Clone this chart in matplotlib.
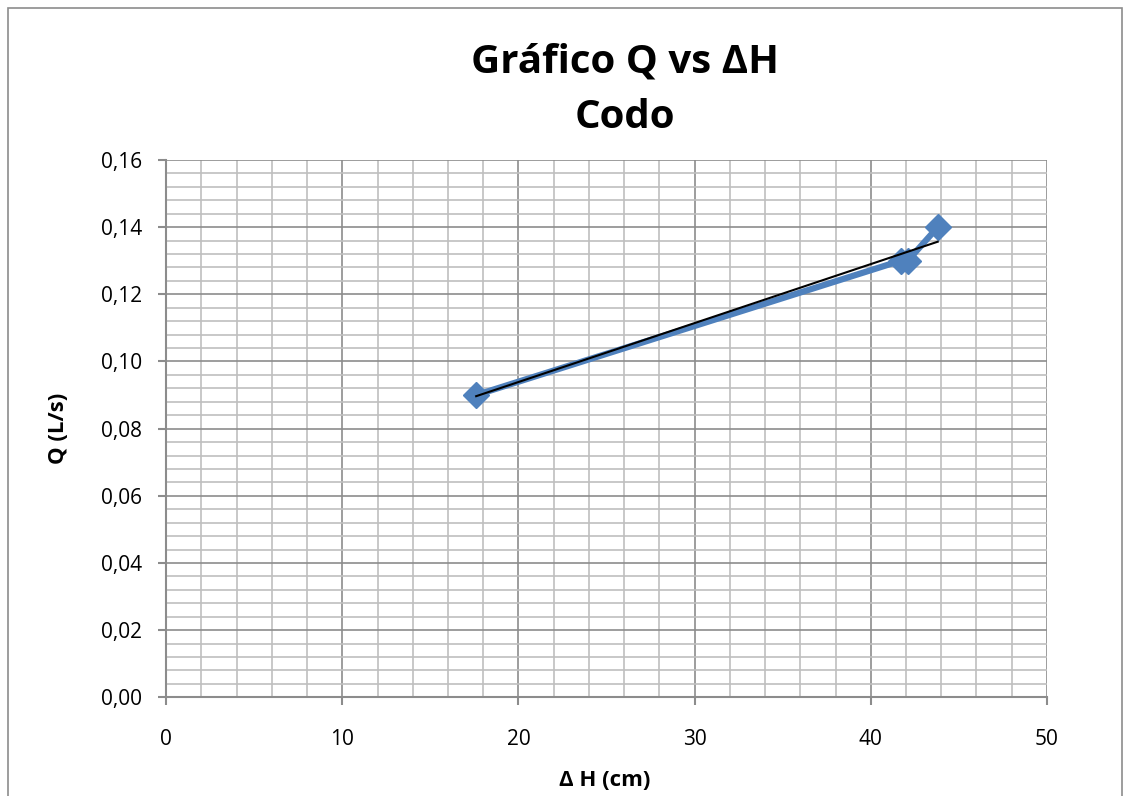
import numpy as np
import matplotlib
matplotlib.use("Agg")
import matplotlib.pyplot as plt
from matplotlib.ticker import MultipleLocator, FuncFormatter
from matplotlib.patches import Rectangle

plt.rcParams['font.family'] = ['Open Sans', 'DejaVu Sans']

# data
delta_h = [17.6, 41.7, 42.1, 43.8]   # cm
caudal = [0.09, 0.13, 0.13, 0.14]    # L/s

fig = plt.figure(figsize=(11.3, 7.96), dpi=100)
ax = fig.add_axes([0.147, 0.124, 0.7795, 0.675])

# grid
ax.set_xlim(0, 50)
ax.set_ylim(0, 0.16)
ax.xaxis.set_major_locator(MultipleLocator(10))
ax.xaxis.set_minor_locator(MultipleLocator(2))
ax.yaxis.set_major_locator(MultipleLocator(0.02))
ax.yaxis.set_minor_locator(MultipleLocator(0.004))
ax.grid(which='major', color='#8c8c8c', linewidth=1.2, zorder=0)
ax.grid(which='minor', color='#bfbfbf', linewidth=1.2, zorder=0)
ax.set_axisbelow(True)

ax.yaxis.set_major_formatter(FuncFormatter(lambda v, p: f"{v:.2f}".replace('.', ',')))
ax.tick_params(which='major', length=6, width=1.5, color='#8c8c8c', labelsize=15)
ax.tick_params(which='minor', length=0)
ax.tick_params(axis='x', pad=17)
ax.tick_params(axis='y', pad=11)

for side in ['top', 'right']:
    ax.spines[side].set_visible(False)
for side in ['left', 'bottom']:
    ax.spines[side].set_color('#8c8c8c')
    ax.spines[side].set_linewidth(1.5)

# series
ax.plot(delta_h, caudal, color='#4F81BD', linewidth=4.5, marker='D',
        markersize=13, zorder=3)

# linear trendline
coef = np.polyfit(delta_h, caudal, 1)
xt = np.array([min(delta_h), max(delta_h)])
ax.plot(xt, np.polyval(coef, xt), color='black', linewidth=1.5, zorder=4)

# axis titles
fig.text(605 / 1130, 1 - 780 / 796, "Δ H (cm)", ha='center', va='center',
         fontsize=16, fontweight='bold')
fig.text(58 / 1130, 1 - 428 / 796, "Q (L/s)", ha='center', va='center',
         fontsize=16, fontweight='bold', rotation=90)

# chart title
fig.text(625 / 1130, 1 - 62 / 796, "Gráfico Q vs ΔH", ha='center', va='center',
         fontsize=29, fontweight='bold')
fig.text(625 / 1130, 1 - 118 / 796, "Codo", ha='center', va='center',
         fontsize=29, fontweight='bold')

# chart border
fig.patches.append(Rectangle((0.007, -0.01), 0.986, 1.0, transform=fig.transFigure,
                             fill=False, edgecolor='#8c8c8c', linewidth=1.2))

fig.savefig("out.png", dpi=100)
